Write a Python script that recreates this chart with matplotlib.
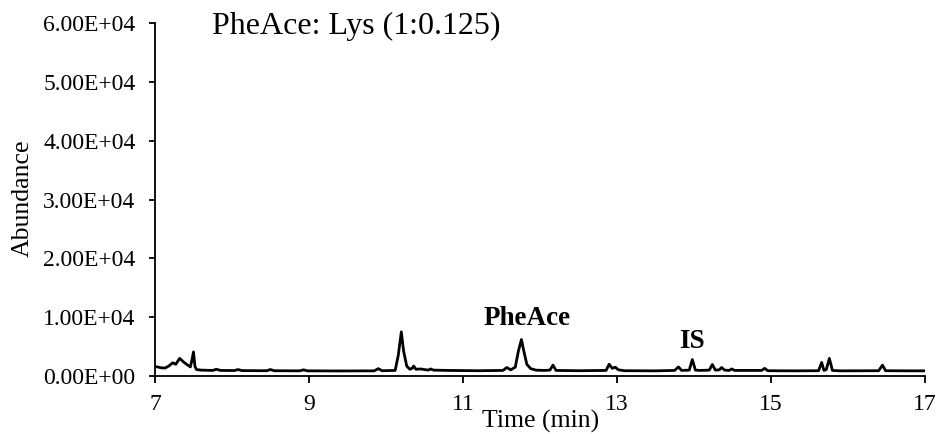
import matplotlib
matplotlib.use("Agg")
import matplotlib.pyplot as plt

time_min = [7.03, 7.08, 7.13, 7.18, 7.23, 7.27, 7.32, 7.37, 7.42, 7.46, 7.48, 7.50, 7.52, 7.54, 7.60,
            7.75, 7.80, 7.85, 8.03, 8.08, 8.13, 8.45, 8.50, 8.55, 8.88, 8.93, 8.98, 9.4, 9.85, 9.90, 9.95,
            10.12, 10.16, 10.20, 10.23, 10.27, 10.31, 10.34, 10.36, 10.39, 10.45, 10.55, 10.58, 10.62, 10.8,
            11.2, 11.52, 11.57, 11.62, 11.68, 11.72, 11.76, 11.79, 11.83, 11.88, 11.95, 12.05,
            12.13, 12.17, 12.21, 12.5, 12.86, 12.90, 12.94, 12.98, 13.02, 13.1, 13.5, 13.75, 13.80, 13.84,
            13.94, 13.98, 14.02, 14.08, 14.20, 14.24, 14.28, 14.33, 14.36, 14.40, 14.46, 14.49, 14.53,
            14.88, 14.92, 14.96, 15.3, 15.62, 15.66, 15.69, 15.72, 15.76, 15.80, 15.9, 16.4, 16.45, 16.49,
            16.8, 17.0]
abundance = [1550, 1400, 1350, 1700, 2250, 2000, 3000, 2400, 1900, 1550, 2700, 4100, 1600, 1100, 1000,
             950, 1150, 950, 930, 1100, 920, 900, 1100, 900, 880, 1050, 880, 860, 880, 1250, 900,
             950, 3500, 7500, 4200, 1700, 1150, 1300, 1700, 1150, 1200, 1000, 1200, 1000, 950,
             900, 950, 1450, 1050, 1500, 4200, 6200, 4300, 2000, 1250, 1000, 950,
             1000, 1850, 950, 900, 950, 2000, 1300, 1500, 1050, 900, 880, 950, 1550, 950,
             1000, 2800, 1000, 950, 1000, 1950, 1000, 1050, 1450, 1000, 950, 1200, 950,
             950, 1300, 900, 880, 900, 2300, 950, 1100, 3000, 950, 880, 900, 1850, 900,
             880, 880]

x_ticks = [7, 9, 11, 13, 15, 17]
y_ticks = [0, 10000, 20000, 30000, 40000, 50000, 60000]
y_tick_labels = ["0.00E+00", "1.00E+04", "2.00E+04", "3.00E+04", "4.00E+04", "5.00E+04", "6.00E+04"]

plt.rcParams['font.family'] = ['Liberation Serif', 'DejaVu Serif']

fig = plt.figure(figsize=(9.37, 4.34), dpi=100)
ax = fig.add_axes([0.1654, 0.1336, 0.8216, 0.8134])
ax.plot(time_min, abundance, color='black', linewidth=2.0)

ax.set_xlim(7, 17)
ax.set_ylim(0, 60000)
ax.set_xticks(x_ticks)
ax.set_xticklabels([str(t) for t in x_ticks], fontsize=17)
ax.set_yticks(y_ticks)
ax.set_yticklabels(y_tick_labels, fontsize=17)
for s in ['top', 'right']:
    ax.spines[s].set_visible(False)
for s in ['left', 'bottom']:
    ax.spines[s].set_linewidth(1.3)
ax.tick_params(axis='y', direction='out', length=4, width=1.3, pad=10)
ax.tick_params(axis='x', direction='out', length=5, width=1.3, pad=8)

ax.set_xlabel("Time (min)", fontsize=18.5)
ax.xaxis.set_label_coords(0.501, -0.097)
ax.set_ylabel("Abundance", fontsize=18.5)
ax.yaxis.set_label_coords(-0.158, 0.504)

ax.text(0.074, 0.9895, "PheAce: Lys (1:0.125)", transform=ax.transAxes, fontsize=23,
        ha='left', va='center')
ax.text(11.83, 9860, "PheAce", fontsize=19.5, fontweight='bold', ha='center', va='center')
ax.text(13.98, 5830, "IS", fontsize=19.5, fontweight='bold', ha='center', va='center')

fig.savefig("out.png", dpi=100)
